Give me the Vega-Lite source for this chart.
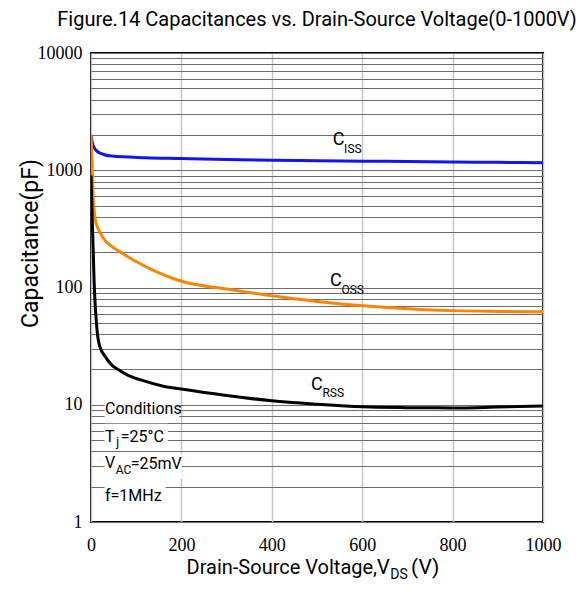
{
  "$schema": "https://vega.github.io/schema/vega-lite/v6.json",
  "width": 452,
  "height": 469,
  "autosize": {"type": "none"},
  "padding": {"left": 91, "top": 53, "right": 37, "bottom": 71},
  "background": "white",
  "title": {
    "text": "Figure.14 Capacitances vs. Drain-Source Voltage(0-1000V)",
    "font": "Roboto, sans-serif",
    "fontSize": 20,
    "fontWeight": "normal",
    "color": "#000",
    "anchor": "middle",
    "offset": 14
  },
  "config": {
    "view": {"stroke": "#000", "strokeWidth": 2},
    "axis": {"domain": false, "ticks": false}
  },
  "datasets": {
    "curves": [
      {"s": "Ciss", "v": 0, "c": 2000}, {"s": "Ciss", "v": 2, "c": 1800}, {"s": "Ciss", "v": 4, "c": 1660}, {"s": "Ciss", "v": 7, "c": 1560}, {"s": "Ciss", "v": 12, "c": 1470}, {"s": "Ciss", "v": 20, "c": 1400}, {"s": "Ciss", "v": 46, "c": 1320}, {"s": "Ciss", "v": 120, "c": 1280}, {"s": "Ciss", "v": 200, "c": 1260}, {"s": "Ciss", "v": 300, "c": 1235}, {"s": "Ciss", "v": 400, "c": 1218}, {"s": "Ciss", "v": 500, "c": 1205}, {"s": "Ciss", "v": 600, "c": 1195}, {"s": "Ciss", "v": 700, "c": 1187}, {"s": "Ciss", "v": 800, "c": 1178}, {"s": "Ciss", "v": 900, "c": 1168}, {"s": "Ciss", "v": 1000, "c": 1160},
      {"s": "Coss", "v": 0, "c": 2000}, {"s": "Coss", "v": 2, "c": 1300}, {"s": "Coss", "v": 3.5, "c": 850}, {"s": "Coss", "v": 5, "c": 560}, {"s": "Coss", "v": 7, "c": 450}, {"s": "Coss", "v": 9, "c": 385}, {"s": "Coss", "v": 14, "c": 330}, {"s": "Coss", "v": 20, "c": 295}, {"s": "Coss", "v": 30, "c": 255}, {"s": "Coss", "v": 46, "c": 224}, {"s": "Coss", "v": 70, "c": 195}, {"s": "Coss", "v": 90, "c": 175}, {"s": "Coss", "v": 130, "c": 145}, {"s": "Coss", "v": 200, "c": 113}, {"s": "Coss", "v": 300, "c": 97}, {"s": "Coss", "v": 400, "c": 85}, {"s": "Coss", "v": 500, "c": 76}, {"s": "Coss", "v": 600, "c": 70}, {"s": "Coss", "v": 700, "c": 66}, {"s": "Coss", "v": 800, "c": 63.5}, {"s": "Coss", "v": 900, "c": 62.5}, {"s": "Coss", "v": 1000, "c": 62},
      {"s": "Crss", "v": 0, "c": 900}, {"s": "Crss", "v": 2, "c": 480}, {"s": "Crss", "v": 5, "c": 200}, {"s": "Crss", "v": 7, "c": 110}, {"s": "Crss", "v": 9, "c": 74}, {"s": "Crss", "v": 12, "c": 50}, {"s": "Crss", "v": 15, "c": 38}, {"s": "Crss", "v": 20, "c": 31}, {"s": "Crss", "v": 31, "c": 26}, {"s": "Crss", "v": 45, "c": 22}, {"s": "Crss", "v": 60, "c": 20}, {"s": "Crss", "v": 80, "c": 18}, {"s": "Crss", "v": 112, "c": 16.2}, {"s": "Crss", "v": 160, "c": 14.4}, {"s": "Crss", "v": 200, "c": 13.6}, {"s": "Crss", "v": 300, "c": 12}, {"s": "Crss", "v": 400, "c": 10.8}, {"s": "Crss", "v": 500, "c": 10.1}, {"s": "Crss", "v": 600, "c": 9.6}, {"s": "Crss", "v": 700, "c": 9.45}, {"s": "Crss", "v": 800, "c": 9.4}, {"s": "Crss", "v": 900, "c": 9.55}, {"s": "Crss", "v": 1000, "c": 9.75}
    ],
    "boxes": [
      {"v": 30, "v2": 195, "c": 11.5, "c2": 7.44},
      {"v": 30, "v2": 170, "c": 6.88, "c2": 4.12},
      {"v": 30, "v2": 201, "c": 3.81, "c2": 2.33},
      {"v": 30, "v2": 165, "c": 2.11, "c2": 1.29}
    ],
    "clabels": [
      {"t": "C", "v": 535, "c": 1805},
      {"t": "C", "v": 529, "c": 112.6},
      {"t": "C", "v": 487, "c": 14.8}
    ],
    "csubs": [
      {"t": "ISS", "v": 560, "c": 1510},
      {"t": "OSS", "v": 554, "c": 94.3},
      {"t": "RSS", "v": 512, "c": 12.7}
    ],
    "cond": [
      {"t": "Conditions", "v": 31, "c": 9.25},
      {"t": "T", "v": 31, "c": 5.32},
      {"t": "=25°C", "v": 66, "c": 5.32},
      {"t": "V", "v": 31, "c": 3.19},
      {"t": "=25mV", "v": 88, "c": 3.13},
      {"t": "f=1MHz", "v": 31, "c": 1.67}
    ],
    "condsub": [
      {"t": "j", "v": 56, "c": 4.83},
      {"t": "AC", "v": 55, "c": 2.78}
    ],
    "xtitleL": [
      {"t": "Drain-Source Voltage,V", "v": 661, "c": 0.404}
    ],
    "xtitleR": [
      {"t": "(V)", "v": 708, "c": 0.404}
    ],
    "xtitlesub": [
      {"t": "DS", "v": 662, "c": 0.352}
    ]
  },
  "encoding": {
    "x": {
      "field": "v", "type": "quantitative",
      "scale": {"domain": [0, 1000], "nice": false, "zero": false},
      "axis": {
        "title": null,
        "values": [0, 200, 400, 600, 800, 1000],
        "format": "d",
        "labelFont": "Liberation Serif, serif",
        "labelFontSize": 18,
        "labelColor": "#000",
        "labelPadding": 14,
        "labelOverlap": false,
        "labelBound": false,
        "labelFlush": false,
        "gridColor": "#c8c8c8",
        "gridWidth": 1.5
      }
    },
    "y": {
      "field": "c", "type": "quantitative",
      "scale": {"type": "log", "domain": [1, 10000], "nice": false},
      "axis": {
        "title": "Capacitance(pF)",
        "titleFont": "Roboto, sans-serif",
        "titleFontSize": 23,
        "titleFontWeight": "normal",
        "titleColor": "#000",
        "titleX": -61,
        "titleY": 190,
        "titleAngle": -90,
        "titleBaseline": "middle",
        "titleAlign": "center",
        "values": [1,2,3,4,5,6,7,8,9,10,20,30,40,50,60,70,80,90,100,200,300,400,500,600,700,800,900,1000,2000,3000,4000,5000,6000,7000,8000,9000,10000],
        "labelExpr": "indexof([1,10,100,1000,10000], datum.value) >= 0 ? format(datum.value, 'd') : ''",
        "labelFont": "Liberation Serif, serif",
        "labelFontSize": 18,
        "labelColor": "#000",
        "labelPadding": 9,
        "labelOverlap": false,
        "labelBound": false,
        "gridColor": "#6e6e6e",
        "gridWidth": 1
      }
    }
  },
  "layer": [
    {
      "data": {"name": "boxes"},
      "mark": {"type": "rect", "color": "white"},
      "encoding": {
        "x2": {"field": "v2"},
        "y2": {"field": "c2"}
      }
    },
    {
      "data": {"name": "curves"},
      "mark": {"type": "line", "strokeWidth": 3, "interpolate": "monotone", "clip": true},
      "encoding": {
        "color": {
          "field": "s", "type": "nominal",
          "scale": {"domain": ["Ciss", "Coss", "Crss"], "range": ["#1414f0", "#ff8200", "#000000"]},
          "legend": null
        }
      }
    },
    {
      "data": {"name": "clabels"},
      "mark": {"type": "text", "align": "left", "baseline": "middle", "font": "Roboto, sans-serif", "fontSize": 18, "color": "#000"},
      "encoding": {"text": {"field": "t"}}
    },
    {
      "data": {"name": "csubs"},
      "mark": {"type": "text", "align": "left", "baseline": "middle", "font": "Roboto, sans-serif", "fontSize": 12, "color": "#000"},
      "encoding": {"text": {"field": "t"}}
    },
    {
      "data": {"name": "cond"},
      "mark": {"type": "text", "align": "left", "baseline": "middle", "font": "Roboto, sans-serif", "fontSize": 16, "color": "#000"},
      "encoding": {"text": {"field": "t"}}
    },
    {
      "data": {"name": "condsub"},
      "mark": {"type": "text", "align": "left", "baseline": "middle", "font": "Roboto, sans-serif", "fontSize": 12, "color": "#000"},
      "encoding": {"text": {"field": "t"}}
    },
    {
      "data": {"name": "xtitleL"},
      "mark": {"type": "text", "align": "right", "baseline": "middle", "font": "Roboto, sans-serif", "fontSize": 20, "color": "#000"},
      "encoding": {"text": {"field": "t"}}
    },
    {
      "data": {"name": "xtitleR"},
      "mark": {"type": "text", "align": "left", "baseline": "middle", "font": "Roboto, sans-serif", "fontSize": 21, "color": "#000"},
      "encoding": {"text": {"field": "t"}}
    },
    {
      "data": {"name": "xtitlesub"},
      "mark": {"type": "text", "align": "left", "baseline": "middle", "font": "Roboto, sans-serif", "fontSize": 14, "color": "#000"},
      "encoding": {"text": {"field": "t"}}
    }
  ]
}
